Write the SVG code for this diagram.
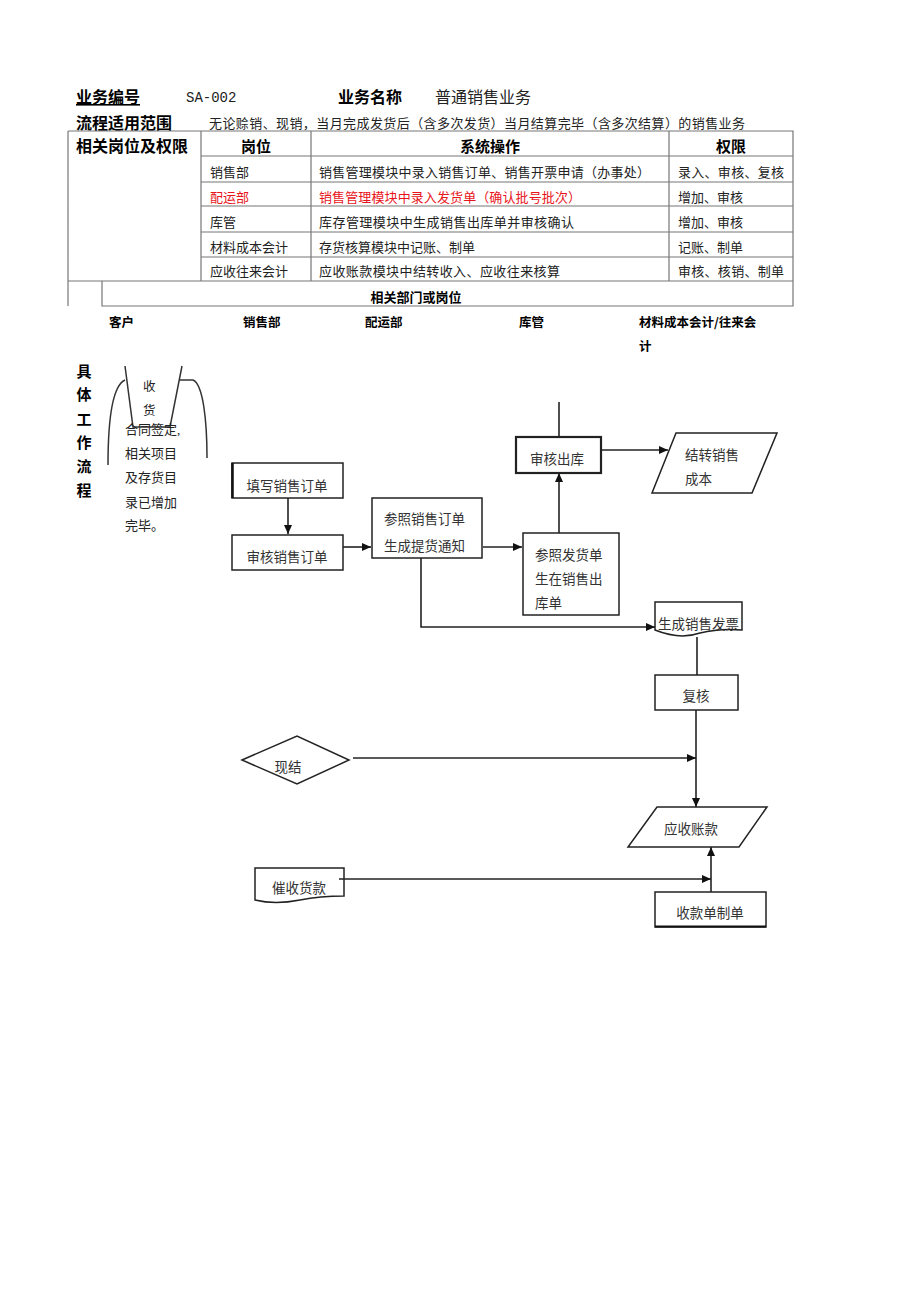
<svg xmlns="http://www.w3.org/2000/svg" width="920" height="1302" viewBox="0 0 920 1302">
<style>
  .hb{font-family:"Noto Sans CJK SC","Liberation Sans",sans-serif;font-weight:bold;fill:#000;}
  .sr{font-family:"Liberation Serif","Noto Sans CJK SC",serif;fill:#222;}
  .ft{font-family:"Liberation Serif","Noto Sans CJK SC",serif;fill:#333;font-size:13.5px;}
  .tl{stroke:#777;stroke-width:1.2;fill:none;}
  .bx{stroke:#222;stroke-width:1.5;fill:#fff;}
  .cn{stroke:#222;stroke-width:1.6;fill:none;}
  .red{fill:#e8141b;}
</style>
<defs>
  <marker id="ah" markerWidth="10" markerHeight="10" refX="9" refY="5" orient="auto" markerUnits="userSpaceOnUse">
    <path d="M0,1 L9,5 L0,9 Z" fill="#111"/>
  </marker>
</defs>
<rect width="920" height="1302" fill="#fff"/>

<g id="header">
  <text x="76" y="103" class="hb" font-size="16" text-decoration="underline">业务编号</text>
  <text x="186" y="102" font-family="Liberation Mono, monospace" font-size="14" fill="#222">SA-002</text>
  <text x="338" y="103" class="hb" font-size="16">业务名称</text>
  <text x="435" y="103" class="sr" font-size="16">普通销售业务</text>
  <text x="76" y="129" class="hb" font-size="16">流程适用范围</text>
  <text x="209" y="128" class="sr" font-size="13" textLength="536" lengthAdjust="spacing">无论赊销、现销，当月完成发货后（含多次发货）当月结算完毕（含多次结算）的销售业务</text>
</g>

<g id="table">
  <path class="tl" d="M68,131 H793 V306 H102 V281 M68,131 V306 M68,281 H793 M201,131 V281 M311,131 V281 M669,131 V281 M201,156 H793 M201,182 H793 M201,206 H793 M201,232 H793 M201,257 H793"/>
  <text x="76" y="152" class="hb" font-size="16">相关岗位及权限</text>
  <text x="256" y="152" class="hb" font-size="15" text-anchor="middle">岗位</text>
  <text x="490" y="152" class="hb" font-size="15" text-anchor="middle">系统操作</text>
  <text x="731" y="152" class="hb" font-size="15" text-anchor="middle">权限</text>
  <g class="sr" font-size="13">
    <text x="210" y="177">销售部</text>
    <text x="319" y="177" textLength="331" lengthAdjust="spacing">销售管理模块中录入销售订单、销售开票申请（办事处）</text>
    <text x="678" y="177" textLength="106" lengthAdjust="spacing">录入、审核、复核</text>
    <text x="210" y="202" class="red">配运部</text>
    <text x="319" y="202" class="red" textLength="262" lengthAdjust="spacing">销售管理模块中录入发货单（确认批号批次）</text>
    <text x="678" y="202">增加、审核</text>
    <text x="210" y="227">库管</text>
    <text x="319" y="227" textLength="255" lengthAdjust="spacing">库存管理模块中生成销售出库单并审核确认</text>
    <text x="678" y="227">增加、审核</text>
    <text x="210" y="252">材料成本会计</text>
    <text x="319" y="252">存货核算模块中记账、制单</text>
    <text x="678" y="252">记账、制单</text>
    <text x="210" y="276">应收往来会计</text>
    <text x="319" y="276" textLength="241" lengthAdjust="spacing">应收账款模块中结转收入、应收往来核算</text>
    <text x="678" y="276" textLength="106" lengthAdjust="spacing">审核、核销、制单</text>
  </g>
  <text x="416" y="302" class="hb" font-size="13" text-anchor="middle">相关部门或岗位</text>
</g>

<g id="lanes">
  <text x="109" y="327" class="hb" font-size="12.5">客户</text>
  <text x="243" y="327" class="hb" font-size="12.5">销售部</text>
  <text x="365" y="327" class="hb" font-size="12.5">配运部</text>
  <text x="519" y="327" class="hb" font-size="12.5">库管</text>
  <text x="639" y="327" class="hb" font-size="12.5">材料成本会计/往来会</text>
  <text x="639" y="351" class="hb" font-size="12.5">计</text>
  <g class="hb" font-size="15" text-anchor="middle">
    <text x="84" y="377">具</text>
    <text x="84" y="400">体</text>
    <text x="84" y="425">工</text>
    <text x="84" y="448">作</text>
    <text x="84" y="472">流</text>
    <text x="84" y="496">程</text>
  </g>
</g>

<g id="node-shouhuo">
  <path d="M108,465 C108,420 112,386 125,380 M180,380 H193 C203,384 207,420 207,458" fill="none" stroke="#333" stroke-width="1.5"/>
  <path d="M125,366 L133,427 H170 L182,366" fill="none" stroke="#333" stroke-width="1.5"/>
  <text x="143" y="391" class="sr" font-size="12.5">收</text>
  <text x="143" y="415" class="sr" font-size="12.5">货</text>
</g>

<g id="note-hetong" class="sr" font-size="13">
  <text x="125" y="434">合同签定,</text>
  <text x="125" y="458">相关项目</text>
  <text x="125" y="482">及存货目</text>
  <text x="125" y="507">录已增加</text>
  <text x="125" y="530">完毕。</text>
</g>

<g id="node-tianxie">
  <rect x="232" y="463" width="111" height="35" class="bx"/>
  <line x1="232.5" y1="463" x2="232.5" y2="498" stroke="#111" stroke-width="2.5"/>
  <text x="287" y="491" class="ft" text-anchor="middle">填写销售订单</text>
</g>

<g id="node-shenhe-dingdan">
  <rect x="232" y="535" width="111" height="35" class="bx"/>
  <text x="287" y="562" class="ft" text-anchor="middle">审核销售订单</text>
</g>

<g id="node-tihuo">
  <rect x="372" y="498" width="110" height="60" class="bx"/>
  <text x="384" y="524" class="ft">参照销售订单</text>
  <text x="384" y="551" class="ft">生成提货通知</text>
</g>

<g id="node-chuku-dan">
  <rect x="523" y="533" width="96" height="82" class="bx"/>
  <text x="535" y="560" class="ft">参照发货单</text>
  <text x="535" y="584" class="ft">生在销售出</text>
  <text x="535" y="608" class="ft">库单</text>
</g>

<g id="node-shenhe-chuku">
  <rect x="516" y="437" width="85" height="36" fill="#fff" stroke="#222" stroke-width="2.2"/>
  <text x="530" y="464" class="ft">审核出库</text>
</g>

<g id="node-jiezhuan">
  <path d="M676,433 H777 L752,493 H652 Z" class="bx"/>
  <text x="685" y="460" class="ft">结转销售</text>
  <text x="685" y="484" class="ft">成本</text>
</g>

<g id="node-fapiao">
  <path d="M655,602 H742 V630 Q720,628 700,633 Q680,640 655,630 Z" class="bx"/>
  <text x="658" y="629" class="ft" font-size="14">生成销售发票</text>
</g>

<g id="node-fuhe">
  <rect x="655" y="675" width="83" height="35" class="bx"/>
  <text x="696" y="701" class="ft" text-anchor="middle">复核</text>
</g>

<g id="node-xianjie">
  <path d="M242,760 L297,736 L349,760 L297,784 Z" class="bx"/>
  <text x="288" y="772" class="ft" text-anchor="middle">现结</text>
</g>

<g id="node-yingshou">
  <path d="M657,807 H767 L739,847 H628 Z" class="bx"/>
  <text x="691" y="834" class="ft" text-anchor="middle">应收账款</text>
</g>

<g id="node-cuishou">
  <path d="M255,868 H344 V896 Q320,896 300,900 Q275,905 255,900 Z" class="bx"/>
  <text x="299" y="893" class="ft" text-anchor="middle">催收货款</text>
</g>

<g id="node-shoukuan">
  <rect x="655" y="892" width="111" height="35" class="bx"/>
  <line x1="655" y1="926.5" x2="766" y2="926.5" stroke="#111" stroke-width="2.2"/>
  <text x="710" y="918" class="ft" text-anchor="middle">收款单制单</text>
</g>

<g id="connectors">
  <path class="cn" d="M288,498 V534" marker-end="url(#ah)"/>
  <path class="cn" d="M343,547 H371" marker-end="url(#ah)"/>
  <path class="cn" d="M483,547 H522" marker-end="url(#ah)"/>
  <path class="cn" d="M421,558 V627 H655" marker-end="url(#ah)"/>
  <path class="cn" d="M559,533 V473" marker-end="url(#ah)"/>
  <path class="cn" d="M559,402 V437" stroke-width="1.2"/>
  <path class="cn" d="M601,450 H668" marker-end="url(#ah)"/>
  <path class="cn" d="M697,637 V675" stroke-width="1.2"/>
  <path class="cn" d="M696,710 V807" marker-end="url(#ah)"/>
  <path class="cn" d="M353,758 H696" marker-end="url(#ah)"/>
  <path class="cn" d="M339,879 H711" marker-end="url(#ah)"/>
  <path class="cn" d="M711,892 V847" marker-end="url(#ah)"/>
</g>
</svg>
